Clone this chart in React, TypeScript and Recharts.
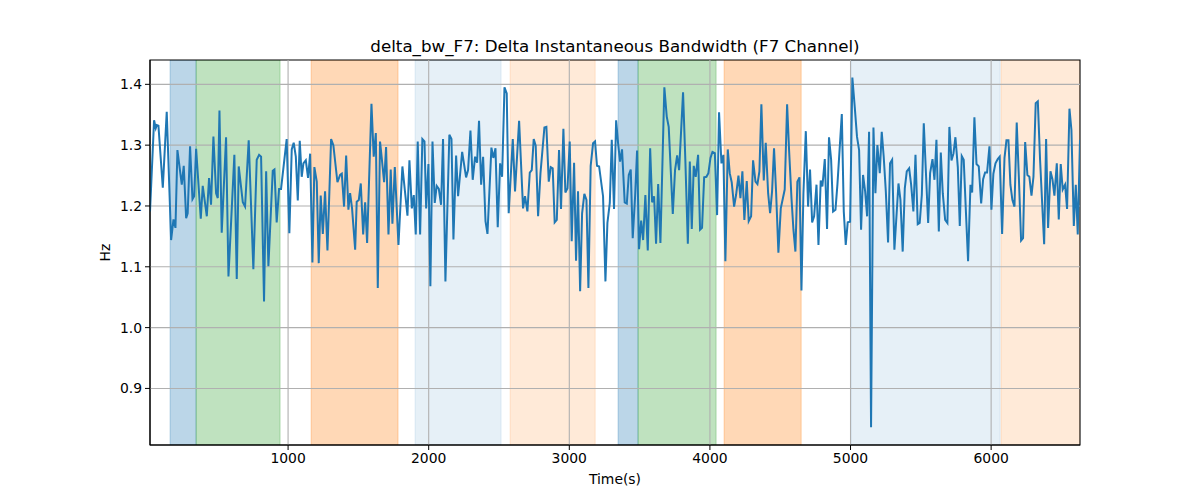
import React from 'react';
import { LineChart, Line, XAxis, YAxis, ReferenceArea, ReferenceLine } from 'recharts';

const samples: [number, number][] = [
[18,1.191],[47,1.341],[59,1.328],[66,1.333],[78,1.332],[109,1.230],[137,1.355],[168,1.144],[185,1.178],[199,1.164],[213,1.292],[244,1.235],[258,1.266],[275,1.180],[286,1.188],[303,1.298],[320,1.211],[332,1.216],[346,1.294],[379,1.179],[393,1.233],[422,1.183],[438,1.246],[452,1.202],[469,1.314],[488,1.221],[500,1.213],[512,1.357],[528,1.156],[559,1.313],[576,1.084],[618,1.284],[635,1.080],[649,1.265],[678,1.206],[694,1.199],[720,1.308],[753,1.096],[777,1.276],[794,1.284],[808,1.281],[829,1.043],[844,1.257],[860,1.101],[891,1.258],[903,1.260],[919,1.173],[936,1.228],[950,1.228],[990,1.310],[1009,1.155],[1026,1.293],[1040,1.304],[1055,1.281],[1069,1.209],[1083,1.307],[1097,1.248],[1109,1.270],[1126,1.275],[1142,1.246],[1157,1.286],[1173,1.107],[1187,1.264],[1204,1.240],[1218,1.106],[1232,1.217],[1247,1.154],[1263,1.224],[1280,1.127],[1306,1.310],[1322,1.300],[1351,1.239],[1370,1.251],[1382,1.253],[1398,1.199],[1413,1.283],[1429,1.194],[1441,1.221],[1455,1.196],[1477,1.128],[1488,1.207],[1503,1.210],[1517,1.237],[1534,1.153],[1548,1.206],[1562,1.139],[1593,1.368],[1609,1.281],[1624,1.320],[1638,1.065],[1654,1.306],[1666,1.279],[1683,1.239],[1697,1.297],[1714,1.153],[1730,1.260],[1742,1.171],[1759,1.264],[1785,1.136],[1813,1.265],[1849,1.184],[1863,1.275],[1880,1.196],[1894,1.218],[1908,1.153],[1922,1.306],[1939,1.153],[1955,1.310],[1970,1.306],[1982,1.196],[1998,1.269],[2012,1.068],[2027,1.306],[2043,1.205],[2057,1.233],[2072,1.228],[2088,1.202],[2102,1.310],[2119,1.076],[2147,1.317],[2162,1.310],[2176,1.145],[2195,1.283],[2209,1.216],[2238,1.289],[2266,1.247],[2280,1.259],[2297,1.324],[2313,1.243],[2330,1.281],[2344,1.271],[2358,1.340],[2373,1.235],[2387,1.281],[2404,1.175],[2418,1.154],[2446,1.296],[2460,1.279],[2475,1.295],[2491,1.165],[2508,1.270],[2522,1.248],[2539,1.395],[2555,1.385],[2569,1.188],[2598,1.310],[2614,1.224],[2643,1.340],[2671,1.196],[2685,1.216],[2702,1.191],[2719,1.255],[2733,1.259],[2747,1.310],[2761,1.299],[2778,1.183],[2795,1.254],[2823,1.329],[2837,1.330],[2854,1.240],[2868,1.264],[2882,1.262],[2896,1.173],[2911,1.177],[2927,1.292],[2941,1.195],[2958,1.327],[2972,1.222],[2987,1.229],[3003,1.306],[3017,1.142],[3034,1.271],[3048,1.110],[3062,1.224],[3077,1.060],[3091,1.188],[3107,1.220],[3122,1.210],[3136,1.065],[3152,1.266],[3169,1.303],[3183,1.306],[3197,1.266],[3212,1.265],[3240,1.216],[3257,1.076],[3271,1.172],[3288,1.205],[3302,1.309],[3318,1.195],[3333,1.341],[3347,1.303],[3361,1.273],[3375,1.293],[3394,1.206],[3409,1.204],[3423,1.251],[3437,1.260],[3451,1.147],[3468,1.216],[3482,1.291],[3496,1.129],[3511,1.176],[3525,1.144],[3541,1.218],[3558,1.127],[3575,1.295],[3589,1.206],[3603,1.216],[3617,1.138],[3632,1.236],[3648,1.139],[3676,1.395],[3693,1.347],[3707,1.330],[3736,1.187],[3752,1.259],[3767,1.283],[3781,1.259],[3809,1.387],[3826,1.270],[3843,1.138],[3857,1.273],[3871,1.162],[3885,1.266],[3899,1.248],[3916,1.284],[3930,1.161],[3944,1.164],[3959,1.247],[3975,1.248],[3989,1.254],[4004,1.279],[4018,1.289],[4035,1.287],[4051,1.185],[4065,1.354],[4082,1.270],[4096,1.284],[4110,1.109],[4127,1.293],[4141,1.254],[4155,1.239],[4172,1.199],[4186,1.218],[4203,1.250],[4217,1.213],[4231,1.257],[4245,1.177],[4262,1.241],[4276,1.175],[4293,1.183],[4307,1.275],[4324,1.240],[4338,1.236],[4352,1.257],[4366,1.367],[4383,1.242],[4397,1.304],[4414,1.221],[4428,1.188],[4442,1.224],[4456,1.295],[4471,1.221],[4487,1.123],[4504,1.196],[4532,1.227],[4549,1.367],[4563,1.292],[4580,1.213],[4594,1.161],[4608,1.125],[4622,1.240],[4637,1.247],[4651,1.061],[4665,1.221],[4682,1.323],[4698,1.199],[4712,1.260],[4727,1.173],[4741,1.183],[4758,1.235],[4772,1.136],[4788,1.242],[4800,1.232],[4817,1.277],[4833,1.162],[4847,1.313],[4862,1.276],[4876,1.191],[4893,1.194],[4907,1.236],[4938,1.351],[4952,1.191],[4966,1.136],[4980,1.173],[4997,1.174],[5013,1.411],[5030,1.363],[5046,1.314],[5061,1.292],[5075,1.161],[5089,1.251],[5104,1.224],[5118,1.183],[5132,1.322],[5146,0.836],[5163,1.329],[5177,1.221],[5191,1.300],[5208,1.254],[5222,1.322],[5236,1.281],[5251,1.224],[5267,1.140],[5281,1.270],[5296,1.276],[5312,1.128],[5341,1.237],[5355,1.210],[5371,1.125],[5386,1.229],[5400,1.257],[5417,1.262],[5431,1.235],[5447,1.191],[5462,1.284],[5478,1.170],[5492,1.172],[5507,1.218],[5521,1.336],[5537,1.251],[5552,1.172],[5566,1.254],[5583,1.277],[5597,1.243],[5611,1.309],[5628,1.158],[5642,1.288],[5656,1.221],[5673,1.177],[5689,1.172],[5703,1.330],[5718,1.275],[5732,1.286],[5746,1.313],[5763,1.264],[5777,1.167],[5791,1.282],[5805,1.276],[5820,1.194],[5836,1.109],[5853,1.235],[5865,1.222],[5881,1.346],[5896,1.269],[5912,1.265],[5929,1.204],[5943,1.244],[5957,1.255],[5971,1.255],[5988,1.298],[6002,1.194],[6016,1.253],[6031,1.270],[6047,1.277],[6061,1.281],[6078,1.154],[6095,1.279],[6109,1.308],[6123,1.308],[6137,1.235],[6151,1.210],[6166,1.199],[6182,1.337],[6197,1.248],[6213,1.143],[6227,1.147],[6242,1.305],[6258,1.251],[6272,1.248],[6287,1.217],[6301,1.248],[6317,1.369],[6332,1.372],[6348,1.276],[6377,1.137],[6391,1.310],[6405,1.164],[6422,1.257],[6436,1.244],[6450,1.217],[6467,1.270],[6481,1.178],[6495,1.269],[6509,1.227],[6526,1.235],[6540,1.195],[6557,1.360],[6571,1.325],[6588,1.167],[6602,1.235],[6616,1.153],[6632,1.309]
];

const spanStarts = [161, 346, 1164, 1903, 2579, 3347, 3489, 4101, 5004, 6071];
const spanEnds = [346, 943, 1782, 2515, 3184, 3489, 4044, 4649, 6064, 6632];
const spanKinds = ['blue', 'green', 'orange', 'lightblue', 'lightorange', 'blue', 'green', 'orange', 'lightblue', 'lightorange'];

const xDomain: [number, number] = [18, 6632];
const yDomain: [number, number] = [0.807, 1.44];
const xTicks = [1000, 2000, 3000, 4000, 5000, 6000];
const yTicks = [0.9, 1.0, 1.1, 1.2, 1.3, 1.4];

const kindStyle: Record<string, { color: string; opacity: number }> = {
  blue: { color: '#1f77b4', opacity: 0.3 },
  green: { color: '#2ca02c', opacity: 0.3 },
  orange: { color: '#ff7f0e', opacity: 0.3 },
  lightblue: { color: '#1f77b4', opacity: 0.11 },
  lightorange: { color: '#ff7f0e', opacity: 0.16 },
};

const data = samples.map(([t, v]) => ({ t, v }));
const FONT = '"DejaVu Sans", sans-serif';
const tickStyle = { fill: '#000', fontSize: 13.9, fontFamily: FONT };

export default function App() {
  return (
    <div style={{ position: 'absolute', left: 0, top: 0, width: 1200, height: 500, background: '#fff' }}>
      <div
        style={{
          position: 'absolute',
          left: 150,
          width: 930,
          top: 36,
          textAlign: 'center',
          fontFamily: FONT,
          fontSize: 16.7,
          color: '#000',
          lineHeight: '20px',
        }}
      >
        delta_bw_F7: Delta Instantaneous Bandwidth (F7 Channel)
      </div>
      <LineChart width={1200} height={500} data={data} margin={{ top: 60, right: 120, bottom: 27, left: 60 }}>
        <XAxis
          dataKey="t"
          type="number"
          domain={xDomain}
          allowDataOverflow
          ticks={xTicks}
          tick={tickStyle}
          tickSize={5}
          tickMargin={3}
          stroke="#000"
          height={28}
          label={{ value: 'Time(s)', position: 'bottom', offset: 1, style: { fill: '#000', fontSize: 13.9, fontFamily: FONT } }}
        />
        <YAxis
          type="number"
          domain={yDomain}
          allowDataOverflow
          ticks={yTicks}
          tickFormatter={(v: number) => v.toFixed(1)}
          tick={tickStyle}
          tickSize={5}
          tickMargin={3}
          stroke="#000"
          width={90}
          label={{ value: 'Hz', angle: -90, position: 'center', style: { fill: '#000', fontSize: 13.9, fontFamily: FONT } }}
        />
        {spanStarts.map((s, i) => {
          const st = kindStyle[spanKinds[i]];
          return (
            <ReferenceArea
              key={'span' + i}
              x1={s}
              x2={spanEnds[i]}
              ifOverflow="hidden"
              fill={st.color}
              fillOpacity={st.opacity}
              stroke={st.color}
              strokeOpacity={st.opacity}
              strokeWidth={1}
            />
          );
        })}
        {xTicks.map((x) => (
          <ReferenceLine key={'gx' + x} x={x} stroke="#b0b0b0" strokeWidth={1.1} />
        ))}
        {yTicks.map((y) => (
          <ReferenceLine key={'gy' + y} y={y} stroke="#b0b0b0" strokeWidth={1.1} />
        ))}
        <Line type="linear" dataKey="v" stroke="#1f77b4" strokeWidth={2} dot={false} isAnimationActive={false} />
        <ReferenceArea
          x1={xDomain[0]}
          x2={xDomain[1]}
          y1={yDomain[0]}
          y2={yDomain[1]}
          ifOverflow="visible"
          fill="none"
          stroke="#000"
          strokeWidth={1.1}
        />
      </LineChart>
    </div>
  );
}
